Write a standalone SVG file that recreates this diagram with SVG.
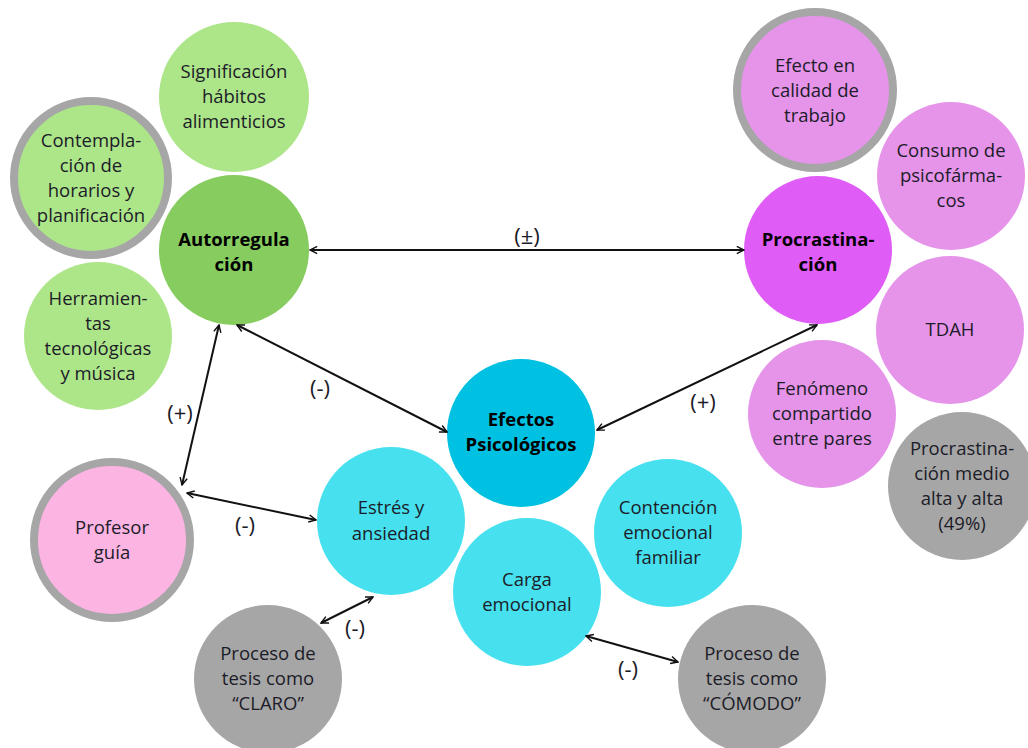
<svg xmlns="http://www.w3.org/2000/svg" width="1028" height="748" viewBox="0 0 1028 748">
<defs>
<marker id="ah" viewBox="0 0 10 10" refX="9" refY="5" markerWidth="9" markerHeight="9" markerUnits="userSpaceOnUse" orient="auto-start-reverse">
<path d="M1,1 L9,5 L1,9" fill="none" stroke="#111" stroke-width="1.6"/>
</marker>
<style>
text{font-family:"Open Sans","Noto Sans","DejaVu Sans",sans-serif;font-size:18.5px;fill:#1c1c28;text-anchor:middle}
.b{font-weight:bold;fill:#000}
.lg{fill:#ade589}
.dg{fill:#86cc5e}
.lp{fill:#e594ea}
.dp{fill:#e05cf6}
.pk{fill:#fcb4e3}
.lc{fill:#46e0ee}
.dc{fill:#00c1e2}
.gr{fill:#a6a6a6}
.ring{stroke:#a6a6a6;stroke-width:8}
.c line{stroke:#111;stroke-width:2;marker-start:url(#ah);marker-end:url(#ah)}
.lbl{font-size:22px}
</style>
</defs>
<rect width="1028" height="748" fill="#fff"/>

<g id="signif"><circle cx="234" cy="97" r="75" class="lg"/><text x="234" y="78">Significación</text><text x="234" y="103">hábitos</text><text x="234" y="128">alimenticios</text></g>
<g id="contempl"><circle cx="91" cy="178" r="77" class="lg ring"/><text x="91" y="147">Contempla-</text><text x="91" y="172">ción de</text><text x="91" y="197">horarios y</text><text x="91" y="222">planificación</text></g>
<g id="herram"><circle cx="98" cy="336" r="74" class="lg"/><text x="98" y="305">Herramien-</text><text x="98" y="330">tas</text><text x="98" y="355">tecnológicas</text><text x="98" y="380">y música</text></g>
<g id="autorreg"><circle cx="234" cy="250" r="75" class="dg"/><text class="b" x="234" y="246">Autorregula</text><text class="b" x="234" y="271">ción</text></g>

<g id="efecto"><circle cx="815" cy="90" r="78" class="lp ring"/><text x="815" y="72">Efecto en</text><text x="815" y="97">calidad de</text><text x="815" y="122">trabajo</text></g>
<g id="consumo"><circle cx="951" cy="176" r="74" class="lp"/><text x="951" y="157">Consumo de</text><text x="951" y="182">psicofárma-</text><text x="951" y="207">cos</text></g>
<g id="tdah"><circle cx="950" cy="330" r="74" class="lp"/><text x="950" y="336">TDAH</text></g>
<g id="procras"><circle cx="818" cy="250" r="74" class="dp"/><text class="b" x="818" y="246">Procrastina-</text><text class="b" x="818" y="271">ción</text></g>
<g id="fenomeno"><circle cx="822" cy="414" r="74" class="lp"/><text x="822" y="395">Fenómeno</text><text x="822" y="420">compartido</text><text x="822" y="445">entre pares</text></g>
<g id="procmedio"><circle cx="962" cy="486" r="74" class="gr"/><text x="962" y="455">Procrastina-</text><text x="962" y="480">ción medio</text><text x="962" y="505">alta y alta</text><text x="962" y="530">(49%)</text></g>

<g id="efectos"><circle cx="521" cy="433" r="74" class="dc"/><text class="b" x="521" y="426">Efectos</text><text class="b" x="521" y="451">Psicológicos</text></g>
<g id="estres"><circle cx="391" cy="521" r="74" class="lc"/><text x="391" y="514">Estrés y</text><text x="391" y="540">ansiedad</text></g>
<g id="contencion"><circle cx="668" cy="533" r="74" class="lc"/><text x="668" y="514">Contención</text><text x="668" y="539">emocional</text><text x="668" y="564">familiar</text></g>
<g id="carga"><circle cx="527" cy="592" r="74" class="lc"/><text x="527" y="586">Carga</text><text x="527" y="611">emocional</text></g>

<g id="profesor"><circle cx="112" cy="540" r="78" class="pk ring"/><text x="112" y="534">Profesor</text><text x="112" y="559">guía</text></g>
<g id="claro"><circle cx="268" cy="679" r="74" class="gr"/><text x="268" y="660">Proceso de</text><text x="268" y="685">tesis como</text><text x="268" y="710">“CLARO”</text></g>
<g id="comodo"><circle cx="752" cy="679" r="74" class="gr"/><text x="752" y="660">Proceso de</text><text x="752" y="685">tesis como</text><text x="752" y="710">“CÓMODO”</text></g>

<g id="connectors" class="c">
<line x1="310" y1="250" x2="744" y2="250"/>
<line x1="237" y1="325" x2="447" y2="432"/>
<line x1="817" y1="325" x2="597" y2="430"/>
<line x1="219" y1="325" x2="182" y2="485"/>
<line x1="187" y1="493" x2="316" y2="520"/>
<line x1="373" y1="597" x2="321" y2="623"/>
<line x1="586" y1="636" x2="678" y2="662"/>
</g>
<g id="labels">
<text class="lbl" x="527" y="244">(±)</text>
<text class="lbl" x="320" y="396">(-)</text>
<text class="lbl" x="703" y="410">(+)</text>
<text class="lbl" x="180" y="421">(+)</text>
<text class="lbl" x="245" y="533">(-)</text>
<text class="lbl" x="355" y="636">(-)</text>
<text class="lbl" x="628" y="677">(-)</text>
</g>
</svg>
